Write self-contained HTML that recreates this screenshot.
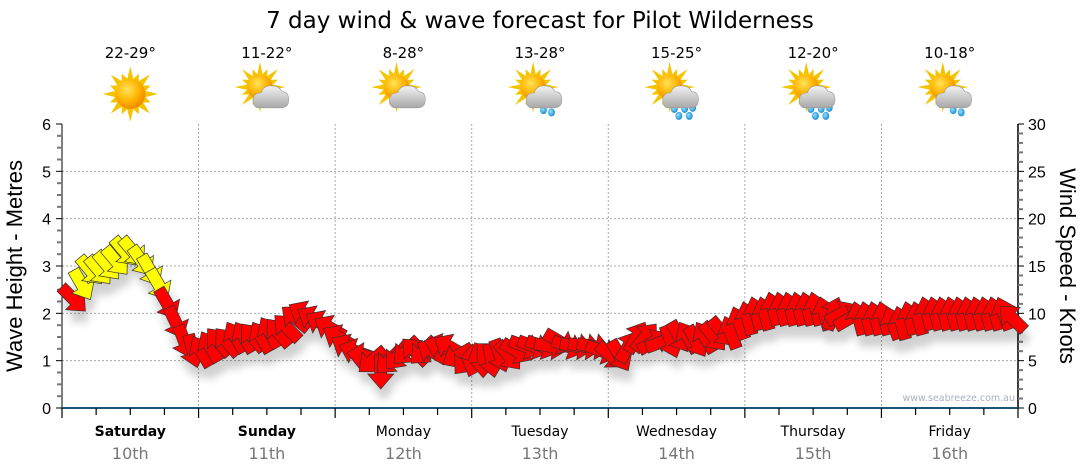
<!DOCTYPE html>
<html><head><meta charset="utf-8"><style>
html,body{margin:0;padding:0;background:#fff;}
svg{display:block;font-family:"Liberation Sans","DejaVu Sans",sans-serif;}
.v{font-family:"DejaVu Sans","Liberation Sans",sans-serif;}
</style></head><body>
<svg id="chart" width="1080" height="475" viewBox="0 0 1080 475" xmlns="http://www.w3.org/2000/svg">
<defs>
<filter id="sh" x="-50%" y="-50%" width="200%" height="200%"><feGaussianBlur stdDeviation="4"/></filter>
<radialGradient id="sunG" cx="40%" cy="35%" r="65%"><stop offset="0" stop-color="#ffe35a"/><stop offset="0.6" stop-color="#ffb400"/><stop offset="1" stop-color="#f08a00"/></radialGradient>
<linearGradient id="cloudG" x1="0" y1="0" x2="0" y2="1"><stop offset="0" stop-color="#f2f2f2"/><stop offset="1" stop-color="#a8a8a8"/></linearGradient>
<radialGradient id="dropG" cx="40%" cy="40%" r="60%"><stop offset="0" stop-color="#8fe0ff"/><stop offset="1" stop-color="#1f8fd0"/></radialGradient>
</defs>
<text class="v" x="540" y="28" text-anchor="middle" font-size="23" fill="#000">7 day wind &amp; wave forecast for Pilot Wilderness</text>
<g id="grid"></g>
<g id="axes"></g>
<g id="icons"></g>
<g id="shadows" filter="url(#sh)" opacity="0.18"></g>
<g id="arrows"></g>
<text class="v" x="1015" y="401" text-anchor="end" font-size="9.5" fill="#a8b0c0">www.seabreeze.com.au</text>
<text transform="translate(22,266) rotate(-90)" text-anchor="middle" font-size="22" fill="#000">Wave Height - Metres</text>
<text transform="translate(1060,266) rotate(90)" text-anchor="middle" font-size="22" fill="#000">Wind Speed - Knots</text>
</svg>
<script>
const days = ["Saturday","Sunday","Monday","Tuesday","Wednesday","Thursday","Friday"];
const dates = ["10th","11th","12th","13th","14th","15th","16th"];
const temps = ["22-29°","11-22°","8-28°","13-28°","15-25°","12-20°","10-18°"];
const iconTypes = ["sun","cloud","cloud","rain1","rain2","rain2","rain1"];
const leftTicks = [0,1,2,3,4,5,6];
const rightTicks = [0,5,10,15,20,25,30];
// hours from Saturday 00:00, wind speed in knots, direction arrow points to (deg clockwise from up)
const hours = [2,3.5,5,6.5,8,9.5,11,12.5,14,15.5,17,18.5,20,21.5,23,
24.5,26,27.5,29,30.5,32,33.5,35,36.5,38,39.5,41,42.5,44,45.5,47,
48.5,50,51.5,53,54.5,56,57.5,59,60.5,62,63.5,65,66.5,68,69.5,71,
72.5,74,75.5,77,78.5,80,81.5,83,84.5,86,87.5,89,90.5,92,93.5,95,
96.5,98,99.5,101,102.5,104,105.5,107,108.5,110,111.5,113,114.5,116,117.5,119,
120.5,122,123.5,125,126.5,128,129.5,131,132.5,134,135.5,137,138.5,140,141.5,143,
144.5,146,147.5,149,150.5,152,153.5,155,156.5,158,159.5,161,162.5,164,165.5,167];
const speeds = [11.5,13,14.5,14.5,15,15.5,16.5,16.5,15.5,14.5,13,11,9,7,6,
6,6.5,7,7,7.5,7.5,7.5,7.5,8,8,8.5,9.5,10,9.5,9,8.5,
7.5,6.5,6,5.5,5,3.8,5,5.5,6,6,6,6,6.5,6.5,5.5,5,
5,5,5,5.5,5.5,6,6.5,6.5,6.5,6.5,7,6.5,6.5,6.5,6.5,6,
5.5,5.5,6.5,7.5,7.5,7,7,7,7.5,7.5,7,7.5,7.5,8,8,9,
9.5,10,10,10.5,10.5,10.5,10.5,10.5,10.5,10,10,10,9.5,9.5,9.5,9.5,
9.5,9,9,9.5,9.5,10,10,10,10,10,10,10,10,10,10,9.5];
const dirs = [135,150,140,140,140,140,140,140,145,150,150,150,155,160,165,
330,330,320,320,330,330,320,330,330,320,315,310,300,300,300,300,
300,300,290,280,230,180,225,220,225,315,225,300,290,300,240,220,
200,180,170,160,140,120,110,110,110,100,120,110,100,100,100,110,
130,150,30,30,40,60,70,160,150,330,150,330,140,140,340,340,
345,345,345,345,345,345,345,345,345,345,20,60,60,345,345,345,
345,340,345,345,345,345,345,345,345,345,345,345,345,345,340,315];

const NS="http://www.w3.org/2000/svg";
const X0=62,X1=1018,Y0=408,Y1=124;
const dayW=(X1-X0)/7;
function xH(h){return X0+h/24*dayW;}
function yM(m){return Y0-(m/6)*(Y0-Y1);}
function yK(k){return Y0-(k/30)*(Y0-Y1);}
function mk(tag,attrs,parent){const e=document.createElementNS(NS,tag);for(const k in attrs)e.setAttribute(k,attrs[k]);parent.appendChild(e);return e;}
const grid=document.getElementById('grid'),axes=document.getElementById('axes'),icons=document.getElementById('icons');
leftTicks.forEach(m=>{if(m>0&&m<6){const l=mk('line',{x1:X0,x2:X1,y1:yM(m),y2:yM(m),stroke:'#aaa','stroke-dasharray':'2,2'},grid);

}});
for(let d=1;d<7;d++){const l=mk('line',{x1:X0+d*dayW,x2:X0+d*dayW,y1:Y1,y2:Y0,stroke:'#aaa','stroke-dasharray':'2,2'},grid);

}
mk('line',{x1:X0,x2:X0,y1:Y1,y2:Y0,stroke:'#000','stroke-width':1},axes);
for(let q=0;q<=24;q++){const y=yM(q/4);mk('line',{x1:X0-(q%4==0?6:5),x2:X0,y1:y,y2:y,stroke:q%4==0?'#000':'#777','stroke-width':q%4==0?1:2},axes);}
leftTicks.forEach(m=>{const t=mk('text',{x:X0-11,y:yM(m)+6,'text-anchor':'end','font-size':16,fill:'#000'},axes);t.textContent=m;

});
mk('line',{x1:X1,x2:X1,y1:Y1,y2:Y0,stroke:'#000','stroke-width':1.5},axes);
for(let k=0;k<=30;k++){const y=yK(k);mk('line',{x1:X1,x2:X1+(k%5==0?6:5),y1:y,y2:y,stroke:k%5==0?'#000':'#777','stroke-width':k%5==0?1:2},axes);}
rightTicks.forEach(k=>{const t=mk('text',{x:X1+10,y:yK(k)+6,'font-size':16,fill:'#000'},axes);t.textContent=k;

});
mk('line',{x1:X0,x2:X1,y1:Y0,y2:Y0,stroke:'#1d5578','stroke-width':2},axes);
for(let s=0;s<=28;s++){mk('line',{x1:xH(s*6),x2:xH(s*6),y1:Y0,y2:Y0+(s%4==0?10:7),stroke:'#000','stroke-width':1.2},axes);}
days.forEach((d,i)=>{const cx=X0+(i+0.5)*dayW;
const t=mk('text',{class:'v',x:cx,y:436,'text-anchor':'middle','font-size':14,fill:'#000','font-weight':i<2?'bold':'normal'},axes);t.textContent=d;


const t2=mk('text',{class:'v',x:cx,y:459,'text-anchor':'middle','font-size':16,fill:'#777'},axes);t2.textContent=dates[i];


const t3=mk('text',{class:'v',x:cx,y:58,'text-anchor':'middle','font-size':15,fill:'#000'},icons);t3.textContent=temps[i];


const g=mk('g',{transform:'translate('+cx+',94) scale(1.15)'},icons);


const type=iconTypes[i];const sx=type=='sun'?0:-6,sy=type=='sun'?0:-6,r=type=='sun'?13:11;
let rays='';for(let a=0;a<16;a++){const ang=a*Math.PI/8,L=a%2?r+6:r+11;const w=0.22;
rays+='M'+(sx+Math.cos(ang-w)*r).toFixed(1)+','+(sy+Math.sin(ang-w)*r).toFixed(1)+'L'+(sx+Math.cos(ang)*L).toFixed(1)+','+(sy+Math.sin(ang)*L).toFixed(1)+'L'+(sx+Math.cos(ang+w)*r).toFixed(1)+','+(sy+Math.sin(ang+w)*r).toFixed(1)+'Z';}
mk('path',{d:rays,fill:'#f5c400'},g);
mk('circle',{cx:sx,cy:sy,r:r,fill:'url(#sunG)'},g);
if(type!='sun'){
if(type.startsWith('rain')){const drops=type=='rain1'?[[3,14],[10,16]]:[[-2,13],[7,13],[14,12],[2,19],[11,19]];
drops.forEach(p=>mk('ellipse',{cx:p[0],cy:p[1],rx:3,ry:3.5,fill:'url(#dropG)'},g));}
mk('path',{d:'M-7,12 Q-12,12 -12,5 Q-12,-1 -5,-1 Q-3,-8 5,-7 Q11,-7 13,-2 Q19,-2 19,5 Q19,12 12,12 Z',fill:'url(#cloudG)',stroke:'#999','stroke-width':0.5},g);
}
});
const arrows=document.getElementById('arrows'),shadows=document.getElementById('shadows');
const shape='-6,17 6,17 6,-2 13,-2 0,-17 -13,-2 -6,-2';
hours.forEach((h,i)=>{const x=xH(h),y=yK(speeds[i]);
mk('polygon',{points:shape,transform:'translate('+(x+3)+','+(y+12)+') rotate('+dirs[i]+')',fill:'#000'},shadows);
const p=mk('polygon',{points:shape,transform:'translate('+x.toFixed(1)+','+y.toFixed(1)+') rotate('+dirs[i]+')',fill:speeds[i]>=12?'#ffff00':'#ff0000',stroke:'#333','stroke-width':0.7},arrows);


});
</script>
</body></html>
